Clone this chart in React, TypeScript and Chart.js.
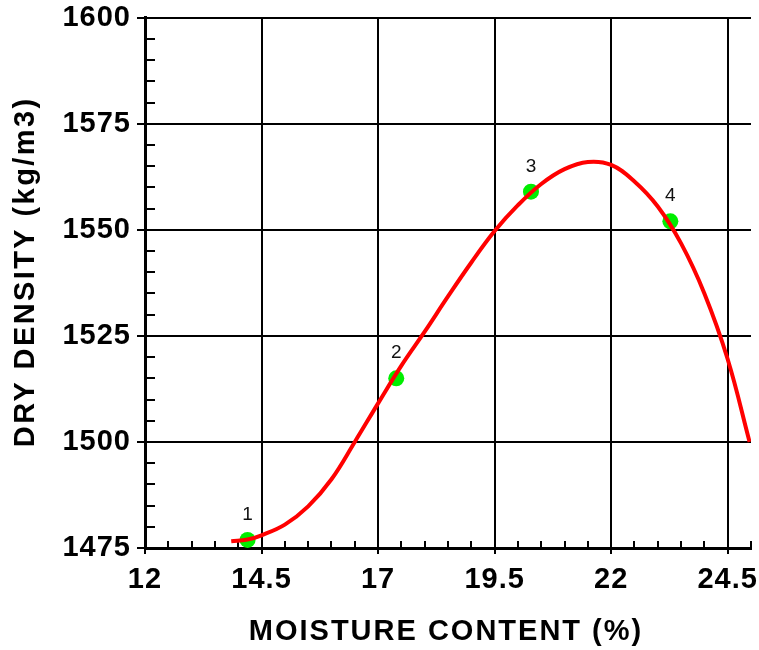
import React, { useEffect, useRef } from "react";
import { Chart, registerables } from "chart.js";

Chart.register(...registerables);

// Fitted compaction curve
const curveX = [13.85, 14.2, 14.5, 15.0, 15.5, 16.0, 16.5, 17.0, 17.5, 18.0, 18.5, 19.0, 19.5, 20.0, 20.5, 21.0, 21.5, 22.0, 22.5, 23.0, 23.5, 24.0, 24.5, 24.97];
const curveY = [1476.6, 1477.0, 1478.0, 1480.5, 1484.8, 1491.2, 1500.0, 1509.1, 1518.0, 1526.0, 1534.3, 1542.3, 1549.7, 1555.8, 1560.8, 1564.3, 1566.0, 1565.3, 1561.4, 1555.5, 1546.8, 1535.0, 1519.5, 1500.0];

// Measured points
const pointX = [14.2, 17.39, 20.28, 23.27];
const pointY = [1476.9, 1515.0, 1559.0, 1552.0];
const pointLabels = ["1", "2", "3", "4"];

// Axis ticks
const xMajorTicks = [12, 14.5, 17, 19.5, 22, 24.5];
const xMinorTicks = [12.5, 13, 13.5, 14, 15, 15.5, 16, 16.5, 17.5, 18, 18.5, 19, 20, 20.5, 21, 21.5, 22.5, 23, 23.5, 24, 25];
const yMajorTicks = [1475, 1500, 1525, 1550, 1575, 1600];
const yMinorTicks = [1480, 1485, 1490, 1495, 1505, 1510, 1515, 1520, 1530, 1535, 1540, 1545, 1555, 1560, 1565, 1570, 1580, 1585, 1590, 1595];

const xTitle = "MOISTURE CONTENT (%)";
const yTitle = "DRY DENSITY (kg/m3)";

const FONT = "'Liberation Sans', Arial, Helvetica, sans-serif";

const spacingPlugin = {
  id: "spacing",
  beforeDraw(chart: any) {
    chart.ctx.letterSpacing = "1px";
  },
};

const minorTicksPlugin = {
  id: "minorTicks",
  beforeDatasetsDraw(chart: any) {
    const { ctx, chartArea, scales } = chart;
    const xs = scales.x;
    const ys = scales.y;
    ctx.save();
    ctx.strokeStyle = "#000";
    ctx.lineWidth = 2;
    ctx.beginPath();
    xMinorTicks.forEach((v) => {
      const px = Math.round(xs.getPixelForValue(v));
      ctx.moveTo(px, chartArea.bottom);
      ctx.lineTo(px, chartArea.bottom - 7);
    });
    yMinorTicks.forEach((v) => {
      const py = Math.round(ys.getPixelForValue(v));
      ctx.moveTo(chartArea.left, py);
      ctx.lineTo(chartArea.left + 10, py);
    });
    ctx.stroke();
    ctx.restore();
  },
};

const titlesPlugin = {
  id: "axisTitles",
  afterDraw(chart: any) {
    const { ctx, chartArea } = chart;
    ctx.save();
    ctx.fillStyle = "#000";
    ctx.font = `bold 29px ${FONT}`;
    ctx.textAlign = "center";
    ctx.textBaseline = "middle";
    ctx.letterSpacing = "2px";
    ctx.fillText(xTitle, (chartArea.left + chartArea.right) / 2 - 2, 632);
    ctx.translate(26, (chartArea.top + chartArea.bottom) / 2 - 11);
    ctx.rotate(-Math.PI / 2);
    ctx.letterSpacing = "2.4px";
    ctx.fillText(yTitle, 0, 0);
    ctx.restore();
  },
};

const pointLabelPlugin = {
  id: "pointLabels",
  afterDatasetsDraw(chart: any) {
    const { ctx } = chart;
    const meta = chart.getDatasetMeta(1);
    ctx.save();
    ctx.letterSpacing = "0px";
    ctx.fillStyle = "#111";
    ctx.font = `19px ${FONT}`;
    ctx.textAlign = "center";
    ctx.textBaseline = "alphabetic";
    meta.data.forEach((el: any, i: number) => {
      ctx.fillText(pointLabels[i], el.x, el.y - 20);
    });
    ctx.restore();
  },
};

export default function App() {
  const canvasRef = useRef<HTMLCanvasElement | null>(null);

  useEffect(() => {
    if (!canvasRef.current) return;
    const chart = new Chart(canvasRef.current, {
      type: "scatter",
      data: {
        datasets: [
          {
            label: "curve",
            data: curveX.map((x, i) => ({ x, y: curveY[i] })),
            showLine: true,
            borderColor: "#ff0000",
            borderWidth: 4,
            pointRadius: 0,
            tension: 0.4,
            fill: false,
          },
          {
            label: "points",
            data: pointX.map((x, i) => ({ x, y: pointY[i] })),
            showLine: false,
            backgroundColor: "#00ee00",
            borderColor: "#00ee00",
            borderWidth: 0,
            pointRadius: 8,
          },
        ],
      },
      options: {
        responsive: false,
        animation: false,
        devicePixelRatio: 1,
        layout: { padding: { top: 17.7, right: 6.4, left: 0, bottom: 0 } },
        plugins: {
          legend: { display: false },
          tooltip: { enabled: false },
        },
        scales: {
          x: {
            type: "linear",
            min: 12,
            max: 25,
            afterBuildTicks: (scale: any) => {
              scale.ticks = xMajorTicks.map((v) => ({ value: v }));
            },
            afterFit: (scale: any) => {
              scale.height = 102;
              scale.paddingLeft = 0;
              scale.paddingRight = 0;
            },
            grid: {
              color: "#000",
              lineWidth: 2,
              tickLength: 6,
              drawTicks: true,
            },
            border: { display: true, color: "#000", width: 3 },
            ticks: {
              color: "#000",
              padding: 9,
              maxRotation: 0,
              autoSkip: false,
              font: { family: FONT, size: 29, weight: "bold" },
              callback: (v: any) => String(v),
            },
            title: { display: false },
          },
          y: {
            type: "linear",
            min: 1475,
            max: 1600,
            afterBuildTicks: (scale: any) => {
              scale.ticks = yMajorTicks.map((v) => ({ value: v }));
            },
            afterFit: (scale: any) => {
              scale.width = 145;
              scale.paddingTop = 0;
              scale.paddingBottom = 0;
            },
            grid: {
              color: "#000",
              lineWidth: 2,
              tickLength: 8,
              drawTicks: true,
            },
            border: { display: true, color: "#000", width: 3 },
            ticks: {
              color: "#000",
              padding: 6,
              autoSkip: false,
              font: { family: FONT, size: 29, weight: "bold" },
              callback: (v: any) => String(v),
            },
            title: { display: false },
          },
        },
      },
      plugins: [spacingPlugin, minorTicksPlugin, pointLabelPlugin, titlesPlugin],
    } as any);
    return () => chart.destroy();
  }, []);

  return (
    <div style={{ position: "absolute", left: 0, top: 0, width: 759, height: 650, background: "#fff" }}>
      <canvas ref={canvasRef} width={759} height={650} />
    </div>
  );
}
